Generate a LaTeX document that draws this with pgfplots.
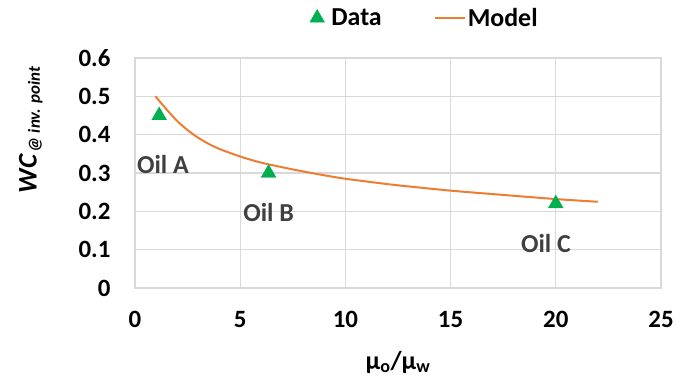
\documentclass[border=0pt]{standalone}
\usepackage{fontspec}
\setmainfont{Carlito}
\usepackage{pgfplots}
\pgfplotsset{compat=1.18}
\usetikzlibrary{calc}
\definecolor{dgreen}{HTML}{00B050}
\definecolor{orng}{HTML}{ED7D31}
\definecolor{gridc}{HTML}{D9D9D9}
\definecolor{txt}{HTML}{404040}
\pgfplotsset{modelleg/.style={legend image code/.code={\draw[##1] (0bp,0bp) -- (30bp,0bp);}}}
\pgfplotsset{dataleg/.style={legend image code/.code={\path (-8bp,0bp) (12bp,0bp); \draw[##1] plot coordinates {(0bp,0bp)};}}}
\begin{document}
\begin{tikzpicture}
\begin{axis}[
  scale only axis, width=526bp, height=230bp,
  xmin=0, xmax=25, ymin=0, ymax=0.6,
  xtick={0,5,...,25}, ytick={0,0.1,...,0.6},
  /pgf/number format/assume math mode=true,
  yticklabel style={/pgf/number format/fixed, /pgf/number format/precision=1, xshift=-21bp},
  xticklabel style={yshift=-20bp},
  ticklabel style={font=\fontsize{25}{27}\selectfont\bfseries, text=black},
  grid=major, major grid style={gridc, line width=1.3bp},
  axis line style={gridc, line width=1.3bp},
  tick style={draw=none},
  clip=false,
  legend style={draw=none, fill=none, at={(axis description cs:0.55,1.174)}, anchor=center,
    font=\fontsize{26}{28}\selectfont\bfseries,
    /tikz/every even column/.append style={column sep=50bp}},
  legend columns=2,
  legend cell align=left,
  xlabel={\fontsize{26}{28}\selectfont\bfseries μ\textsubscript{o}/μ\textsubscript{w}},
  ylabel={\fontsize{27}{29}\selectfont\bfseries\itshape WC\fontsize{17}{19}\selectfont\raisebox{-0.4ex}{\,@ inv. point}},
  xlabel style={at={(axis description cs:0.5,-0.322)}, anchor=center},
  ylabel style={at={(axis description cs:-0.198,0.687)}, anchor=center},
]
\addplot[only marks, mark=triangle*, mark size=8.5bp, color=dgreen, dataleg] coordinates {
  (1.15,0.45) (6.35,0.30) (20.0,0.22)
};
\addlegendentry{Data}
\addplot[color=orng, line width=2bp, smooth, modelleg] coordinates {
  (0.97,0.500) (1.5,0.466) (2,0.436) (2.5,0.412) (3,0.392) (3.5,0.376) (4,0.363) (5,0.343)
  (6,0.327) (7,0.315) (8,0.304) (9,0.294) (10,0.285) (12,0.271) (13,0.265)
  (15,0.254) (17,0.245) (20,0.232) (22,0.225)
};
\addlegendentry{Model}
\node[text=txt, font=\fontsize{26}{28}\selectfont\bfseries] at (axis cs:1.33,0.321) {Oil A};
\node[text=txt, font=\fontsize{26}{28}\selectfont\bfseries] at (axis cs:6.35,0.198) {Oil B};
\node[text=txt, font=\fontsize{26}{28}\selectfont\bfseries] at (axis cs:19.53,0.117) {Oil C};
\end{axis}
\pgfresetboundingbox
\useasboundingbox ($(current axis.south west)+(-135bp,-94bp)$) rectangle ($(current axis.north east)+(30bp,58bp)$);
\end{tikzpicture}
\end{document}
